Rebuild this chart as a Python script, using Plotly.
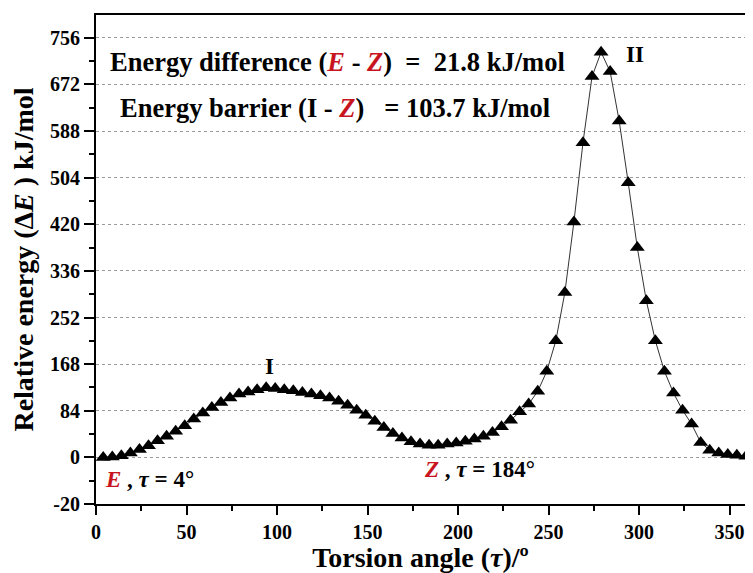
import plotly.graph_objects as go

# Data
torsion_deg = [4, 9, 14, 19, 24, 29, 34, 39, 44, 49, 54, 59, 64, 69, 74, 79, 84, 89,
               94, 99, 104, 109, 114, 119, 124, 129, 134, 139, 144, 149, 154, 159, 164, 169,
               174, 179, 184, 189, 194, 199, 204, 209, 214, 219, 224, 229, 234, 239, 244, 249,
               254, 259, 264, 269, 274, 279, 284, 289, 294, 299, 304, 309, 314, 319, 324, 329,
               334, 339, 344, 349, 354, 359]
rel_energy = [0, 0.5, 3, 8, 14, 21, 30, 38, 47, 57, 69, 80, 90, 99, 107, 114, 118, 122,
              125.5, 124, 122, 120, 117, 114, 111, 107, 101, 94, 85, 76, 65, 54, 43, 35,
              28, 24, 21.8, 22, 24, 26, 29, 33, 38, 45, 55, 67, 82, 96, 119, 155,
              210, 297, 424, 567, 686, 730, 695, 606, 495, 378, 282, 210, 155, 116, 85, 60,
              27, 13, 8, 5, 4, 2]

# Axis ticks (the lowest label sits one grid step below zero in the original)
y_tick_vals = [-84, 0, 84, 168, 252, 336, 420, 504, 588, 672, 756]
y_tick_text = ["-20", "0", "84", "168", "252", "336", "420", "504", "588", "672", "756"]
y_minor_vals = [-42, 42, 126, 210, 294, 378, 462, 546, 630, 714]
x_tick_vals = [0, 50, 100, 150, 200, 250, 300, 350]

FONT = "Liberation Serif, Times New Roman, serif"
RED = "#c8141e"

fig = go.Figure()
fig.add_trace(go.Scatter(
    x=torsion_deg, y=rel_energy, mode="lines+markers",
    line=dict(color="#333333", width=1),
    marker=dict(symbol="triangle-up", size=13, color="black"),
    showlegend=False,
))

annotations = [
    dict(x=6.5, y=713, xanchor="left", yanchor="middle",
         text=f"<b>Energy difference\u00a0(<i><span style='color:{RED}'>E</span></i> - "
              f"<i><span style='color:{RED}'>Z</span></i>)\u00a0\u00a0=\u00a0\u00a021.8 kJ/mol</b>",
         font=dict(size=26.5)),
    dict(x=12, y=630, xanchor="left", yanchor="middle",
         text=f"<b>Energy barrier\u00a0(I - <i><span style='color:{RED}'>Z</span></i>)"
              f"\u00a0\u00a0\u00a0= 103.7 kJ/mol</b>",
         font=dict(size=26.5)),
    dict(x=96, y=164, text="<b>I</b>", font=dict(size=23)),
    dict(x=298, y=725, text="<b>II</b>", font=dict(size=23)),
    dict(x=4, y=-40, xanchor="left", yanchor="middle",
         text=f"<b><i><span style='color:{RED}'>E</span></i> , <i>τ</i> = 4°</b>",
         font=dict(size=23)),
    dict(x=180, y=-22, xanchor="left", yanchor="middle",
         text=f"<b><i><span style='color:{RED}'>Z</span></i> , <i>τ</i> = 184°</b>",
         font=dict(size=23)),
]
for a in annotations:
    a.update(xref="x", yref="y", showarrow=False)
    a["font"].update(family=FONT, color="black")

# The page body adds an 8px offset; size and margins compensate for it
fig.update_layout(
    width=745, height=565,
    margin=dict(l=88, r=8, t=7, b=69),
    paper_bgcolor="white", plot_bgcolor="white",
    font=dict(family=FONT, color="black"),
    annotations=annotations,
)
fig.update_xaxes(
    range=[0, 358.5], tickmode="array", tickvals=x_tick_vals, automargin=False,
    ticks="outside", ticklen=9, tickwidth=2, tickcolor="black",
    minor=dict(dtick=25, tick0=0, ticks="outside", ticklen=5, tickwidth=2, tickcolor="black"),
    showline=True, linecolor="black", linewidth=2, mirror=True,
    showgrid=False, zeroline=False,
    tickfont=dict(size=20, family=FONT, weight="bold"),
    title=dict(text="<b>Torsion angle (<i>τ</i>)/º</b>", font=dict(size=28, family=FONT), standoff=8),
)
fig.update_yaxes(
    range=[-84, 797], tickmode="array", tickvals=y_tick_vals, ticktext=y_tick_text,
    automargin=False,
    ticks="outside", ticklen=10, tickwidth=2, tickcolor="black",
    minor=dict(tickmode="array", tickvals=y_minor_vals, ticks="outside", ticklen=5,
               tickwidth=2, tickcolor="black", showgrid=False),
    showline=True, linecolor="black", linewidth=2, mirror=True,
    showgrid=True, gridcolor="#9a9a9a", gridwidth=1, griddash="dot",
    zeroline=False,
    tickfont=dict(size=20, family=FONT, weight="bold"),
    title=dict(text="<b>Relative energy (Δ<i>E</i> ) kJ/mol</b>", font=dict(size=28, family=FONT), standoff=10),
)

fig.write_html("out.html")
